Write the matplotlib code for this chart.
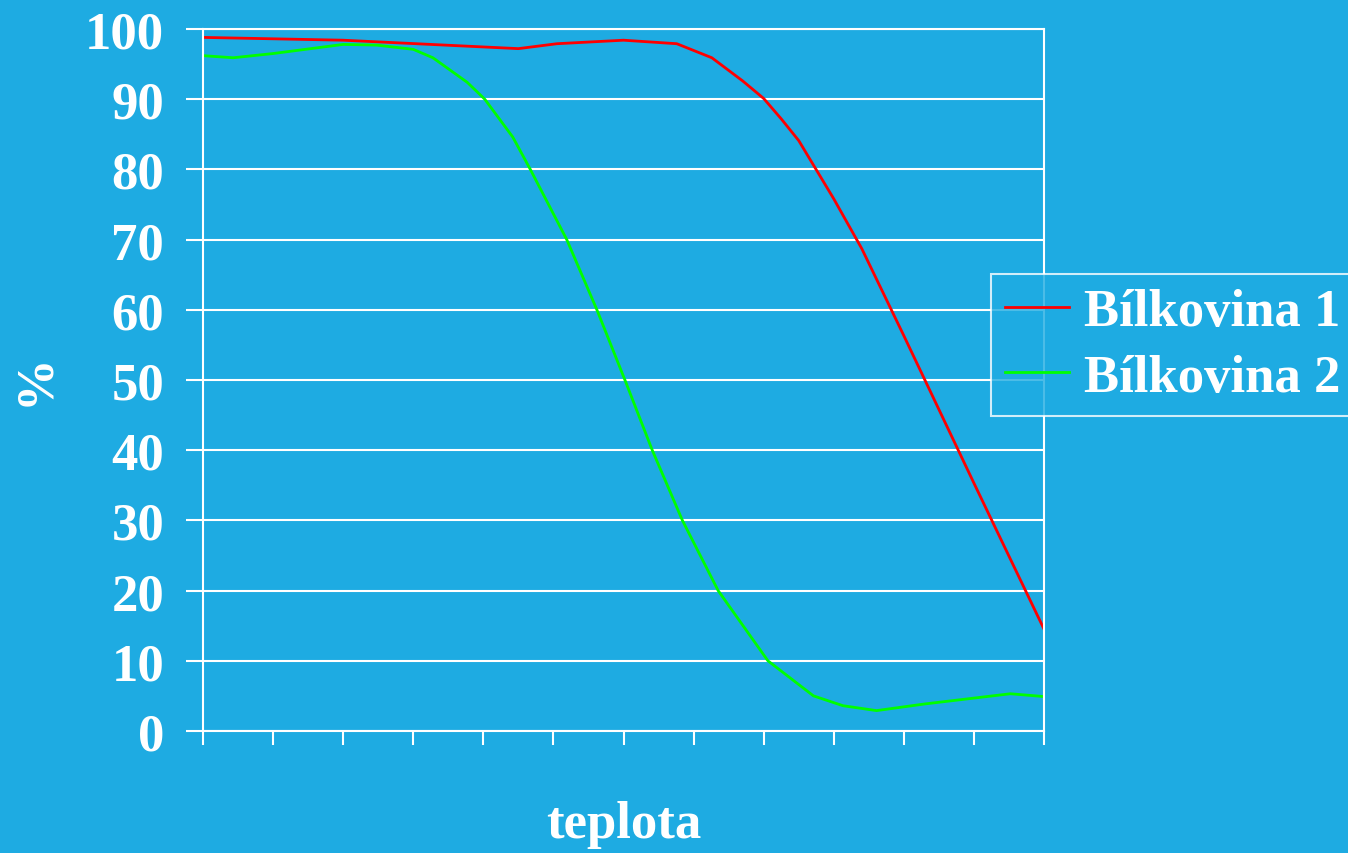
import matplotlib.pyplot as plt
import numpy as np

bg = '#1eabe2'

# red protein: x on 0..12 temperature scale
x1 = [0, 2, 4.5, 5.05, 6, 6.76, 7.26, 7.7, 8, 8.25, 8.5, 9, 9.4, 10, 11, 12]
y1 = [98.8, 98.4, 97.2, 97.9, 98.4, 97.9, 95.9, 92.6, 90.1, 87.2, 84.1, 75.8, 68.7, 56.3, 35.3, 14.5]

# green protein
x2 = [0, 0.43, 1, 2, 2.48, 3.0, 3.28, 3.77, 4.02, 4.42, 4.67, 5.19, 5.62, 6.02, 6.41,
      6.84, 7.35, 8.06, 8.71, 9.13, 9.61, 10.3, 11.52, 12]
y2 = [96.2, 95.9, 96.5, 97.8, 97.7, 97.1, 95.9, 92.4, 90.0, 84.6, 80.0, 70.0, 60.0, 50.0, 40.0,
      30.0, 20.0, 10.0, 5.0, 3.6, 2.9, 3.85, 5.3, 4.9]

labels = ['Bílkovina 1', 'Bílkovina 2']
yticks = np.arange(0, 101, 10)

fs = 38
plt.rcParams['font.family'] = 'Liberation Serif'
plt.rcParams['font.weight'] = 'bold'

fig = plt.figure(figsize=(13.48, 8.54), dpi=100, facecolor=bg)
ax = fig.add_axes([0.1506, 0.1429, 0.6239, 0.8220], facecolor=bg)

ax.plot(x1, y1, color='#ff0000', lw=2, label=labels[0])
ax.plot(x2, y2, color='#00ff00', lw=2, label=labels[1])

ax.set_xlim(0, 12)
ax.set_ylim(0, 100)
ax.set_xticks(np.arange(0, 13))
ax.set_xticklabels([])
ax.set_yticks(yticks)
ax.set_yticklabels([str(v) for v in yticks], fontsize=fs, fontweight='bold', color='white')
ax.tick_params(axis='x', direction='out', length=10, width=1.5, color='white')
ax.tick_params(axis='y', direction='out', length=12, width=1.5, color='white', pad=16)
ax.grid(axis='y', color='white', lw=1.5)
ax.set_axisbelow(True)
for s in ax.spines.values():
    s.set_color('white')
    s.set_linewidth(1.5)

fig.text(0.026, 0.555, '%', rotation=90, ha='center', va='center',
         fontsize=fs, fontweight='bold', color='white')
fig.text(0.4625, 0.034, 'teplota', ha='center', va='center',
         fontsize=fs, fontweight='bold', color='white')

lgd = ax.legend(loc='upper left', bbox_to_anchor=(991 / 1348, 1 - 275 / 854),
                bbox_transform=fig.transFigure, frameon=True, fancybox=False,
                facecolor=bg, edgecolor='white', handlelength=1.2, handletextpad=0.3,
                borderpad=0.27, borderaxespad=0, labelspacing=0.33,
                prop={'size': fs, 'weight': 'bold'})
lgd.get_frame().set_linewidth(1.5)
for t in lgd.get_texts():
    t.set_color('white')

fig.savefig('out.png', dpi=100, facecolor=bg)
